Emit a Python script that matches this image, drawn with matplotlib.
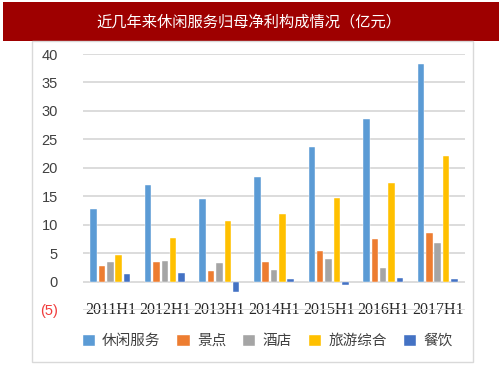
import matplotlib
matplotlib.use("Agg")
import matplotlib.pyplot as plt
from matplotlib.patches import Rectangle, Patch
import numpy as np

plt.rcParams['font.family'] = ['Noto Sans CJK SC', 'DejaVu Sans']

# data (亿元)
periods = ["2011H1", "2012H1", "2013H1", "2014H1", "2015H1", "2016H1", "2017H1"]
series_names = ["休闲服务", "景点", "酒店", "旅游综合", "餐饮"]
leisure = [12.8, 17.0, 14.5, 18.4, 23.7, 28.5, 38.3]
scenic = [2.8, 3.4, 1.9, 3.4, 5.3, 7.4, 8.5]
hotel = [3.4, 3.7, 3.2, 2.1, 3.9, 2.4, 6.7]
tourism = [4.7, 7.6, 10.6, 11.9, 14.7, 17.4, 22.0]
catering = [1.3, 1.5, -1.8, 0.4, -0.6, 0.6, 0.4]
colors = ["#5B9BD5", "#ED7D31", "#A5A5A5", "#FFC000", "#4472C4"]
yticks = [-5, 0, 5, 10, 15, 20, 25, 30, 35, 40]
ytick_labels = ["(5)", "0", "5", "10", "15", "20", "25", "30", "35", "40"]

all_series = [leisure, scenic, hotel, tourism, catering]

fig = plt.figure(figsize=(5.03, 3.78), dpi=100)

# title banner and chart frame
fig.patches.append(Rectangle((3 / 503, 1 - 41 / 378), 496 / 503, 39 / 378,
                             transform=fig.transFigure, facecolor="#9E0000",
                             edgecolor="none", zorder=0))
fig.patches.append(Rectangle((32 / 503, 1 - 362 / 378), 441 / 503, 321 / 378,
                             transform=fig.transFigure, facecolor="none",
                             edgecolor="#D9D9D9", linewidth=1, zorder=0))
fig.text(249 / 503, 1 - 22 / 378, "近几年来休闲服务归母净利构成情况（亿元）",
         color="white", fontsize=11, ha="center", va="center")

ax = fig.add_axes([83 / 503, 1 - 310 / 378, 382 / 503, 256 / 378])
x = np.arange(len(periods))
pitch = 0.153
width = 0.12
for i, (vals, c) in enumerate(zip(all_series, colors)):
    ax.bar(x + (i - 2) * pitch, vals, width=width, color=c,
           edgecolor="white", linewidth=0.3, zorder=3)

ax.set_xlim(-0.5, len(periods) - 0.5)
ax.set_ylim(-5, 40)
ax.set_yticks(yticks)
ax.set_yticklabels(ytick_labels, family=["Liberation Sans"], fontsize=10.5,
                   color="#404040")
ax.get_yticklabels()[0].set_color("#F03C3C")
ax.set_xticks(x)
ax.set_xticklabels(periods, family=["Liberation Serif"], fontsize=11.5,
                   color="#262626")
for lbl in ax.get_xticklabels():
    lbl.set_va("center")
ax.tick_params(axis="x", length=0, pad=0)
ax.tick_params(axis="y", length=0, pad=18)
for s in ax.spines.values():
    s.set_visible(False)
ax.yaxis.grid(True, color="#D9D9D9", linewidth=1.3, zorder=0)
ax.set_axisbelow(True)

handles = [Patch(facecolor=c, edgecolor="white") for c in colors]
fig.legend(handles, series_names, loc="center", ncol=5,
           bbox_to_anchor=(267 / 503, 1 - 341 / 378), frameon=False,
           fontsize=10.5, handlelength=0.9, handleheight=0.9,
           handletextpad=0.5, columnspacing=1.1, labelcolor="#404040")

fig.savefig("out.png", dpi=100)
